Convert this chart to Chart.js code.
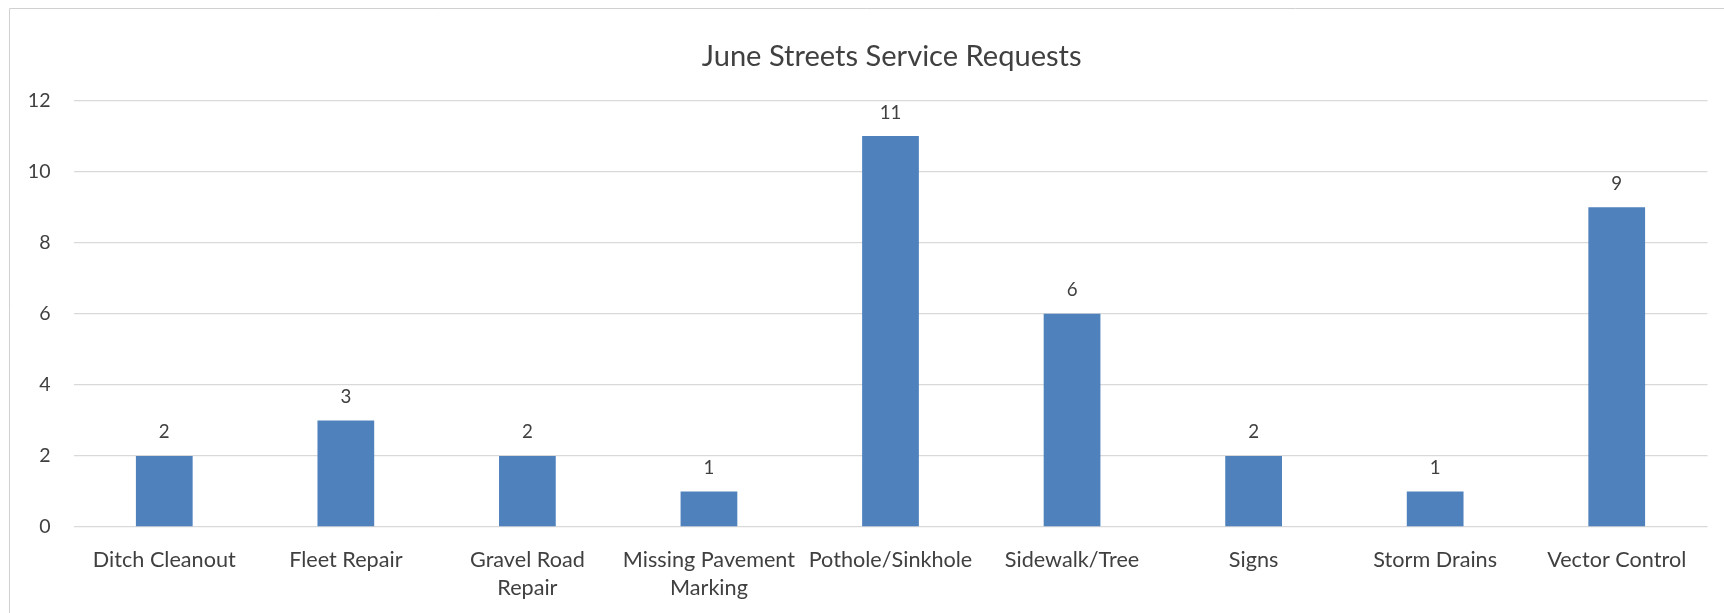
<!DOCTYPE html>
<html>
<head>
<meta charset="utf-8">
<script src="https://cdn.jsdelivr.net/npm/chart.js@4/dist/chart.umd.min.js"></script>
<style>
  html, body { margin: 0; padding: 0; background: #ffffff; }
  #wrap { position: relative; width: 1724px; height: 613px; }
</style>
</head>
<body>
<div id="wrap"><canvas id="c" width="1724" height="613"></canvas></div>
<script>
const titleText = "June Streets Service Requests";
const categories = [
  "Ditch Cleanout",
  "Fleet Repair",
  ["Gravel Road", "Repair"],
  ["Missing Pavement", "Marking"],
  "Pothole/Sinkhole",
  "Sidewalk/Tree",
  "Signs",
  "Storm Drains",
  "Vector Control"
];
const requests = [2, 3, 2, 1, 11, 6, 2, 1, 9];
const yTicks = { min: 0, max: 12, step: 2 };

const FAMILY = "Lato, 'Open Sans', sans-serif";
const TEXT = "#404040";
const GRID = "#d9d9d9";
const BAR = "#4f81bd";

// size fonts so text widths match the reference
const mctx = document.createElement("canvas").getContext("2d");
function fitSize(text, targetWidth) {
  mctx.font = "100px " + FAMILY;
  return 100 * targetWidth / mctx.measureText(text).width;
}
const labelSize = fitSize("Ditch Cleanout", 143);
const titleSize = fitSize(titleText, 380);
const valueSize = fitSize("11", 21.7);
const tickSize = fitSize("12", 22.7);

const frame = {
  id: "frame",
  beforeDraw(chart) {
    const ctx = chart.ctx;
    ctx.save();
    ctx.strokeStyle = "#d0d0d0";
    ctx.lineWidth = 1;
    ctx.beginPath();
    ctx.moveTo(9.5, 613);
    ctx.lineTo(9.5, 8.5);
    ctx.lineTo(1724, 8.5);
    ctx.stroke();
    ctx.restore();
  }
};

// chart title, centred on the chart frame like the reference
const frameTitle = {
  id: "frameTitle",
  afterDraw(chart) {
    const ctx = chart.ctx;
    ctx.save();
    ctx.fillStyle = TEXT;
    ctx.font = titleSize + "px " + FAMILY;
    ctx.textAlign = "center";
    ctx.textBaseline = "alphabetic";
    ctx.fillText(titleText, 891.7, 65.7);
    ctx.restore();
  }
};

const valueLabels = {
  id: "valueLabels",
  afterDatasetsDraw(chart) {
    const ctx = chart.ctx;
    const meta = chart.getDatasetMeta(0);
    const data = chart.data.datasets[0].data;
    ctx.save();
    ctx.fillStyle = TEXT;
    ctx.font = valueSize + "px " + FAMILY;
    ctx.textAlign = "center";
    ctx.textBaseline = "alphabetic";
    meta.data.forEach((bar, i) => {
      ctx.fillText(String(data[i]), bar.x, bar.y - 17.5);
    });
    ctx.restore();
  }
};

new Chart(document.getElementById("c"), {
  type: "bar",
  data: {
    labels: categories,
    datasets: [{
      label: "Requests",
      data: requests,
      backgroundColor: BAR,
      borderWidth: 0,
      categoryPercentage: 1.0,
      barPercentage: 0.3125
    }]
  },
  options: {
    responsive: false,
    animation: false,
    devicePixelRatio: 1,
    layout: { padding: { left: 0, right: 16.5, top: 100.5, bottom: 0 } },
    plugins: {
      legend: { display: false },
      tooltip: { enabled: false },
      title: { display: false }
    },
    scales: {
      x: {
        grid: { display: false, drawTicks: false },
        border: { display: false },
        ticks: {
          color: TEXT,
          maxRotation: 0,
          autoSkip: false,
          padding: 18.5,
          font: { family: FAMILY, size: labelSize, lineHeight: "28.3px" }
        },
        afterFit(scale) { scale.height = 86; }
      },
      y: {
        min: yTicks.min,
        max: yTicks.max,
        grid: { color: GRID, lineWidth: 1.3, drawTicks: false },
        border: { display: false },
        ticks: {
          stepSize: yTicks.step,
          color: TEXT,
          padding: 23,
          font: { family: FAMILY, size: tickSize }
        },
        afterFit(scale) { scale.width = 73.5; }
      }
    }
  },
  plugins: [frame, frameTitle, valueLabels]
});
</script>
</body>
</html>
